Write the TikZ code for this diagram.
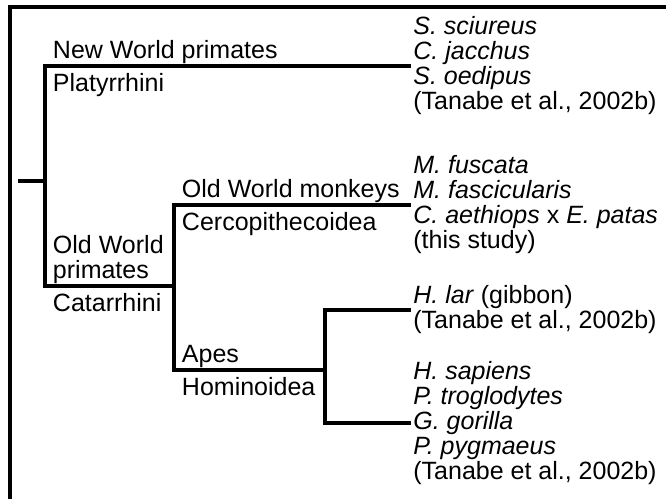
\documentclass[tikz,border=0pt]{standalone}
\usepackage{fontspec}
\setmainfont{Liberation Sans}
\usetikzlibrary{positioning, calc}

\begin{document}
\begin{tikzpicture}[
    x=0.5pt, y=-0.5pt,
    every node/.style={font=\fontsize{12.5pt}{12.5pt}\selectfont},
    taxa/.style={anchor=west, align=left, inner sep=1pt},
    above lab/.style={anchor=south west, align=left, inner sep=0pt, xshift=3.8pt, yshift=1pt},
    below lab/.style={anchor=north west, align=left, inner sep=0pt, xshift=3.8pt, yshift=-3.5pt},
    branch/.style={line width=2pt, line join=miter},
    frame/.style={line width=2pt}
]
\useasboundingbox (0,0) rectangle (666,499);

% --- Frame ---
\draw[frame] (10,499) |- (666,7);

% --- Internal nodes ---
\coordinate (root) at (18,181);
\coordinate (n0) at (45,181);
\coordinate (n1) at (174,286);
\coordinate (n2) at (325,370);

% --- Taxa ---
\node[taxa] (nw) at (411,66) {\textit{S. sciureus}\\\textit{C. jacchus}\\\textit{S. oedipus}\\(Tanabe et al., 2002b)};
\node[taxa] (owm) at (411,205) {\textit{M. fuscata}\\\textit{M. fascicularis}\\\textit{C. aethiops} x \textit{E. patas}\\(this study)};
\node[taxa] (gib) at (411,310) {\textit{H. lar} (gibbon)\\(Tanabe et al., 2002b)};
\node[taxa] (gre) at (411,423) {\textit{H. sapiens}\\\textit{P. troglodytes}\\\textit{G. gorilla}\\\textit{P. pygmaeus}\\(Tanabe et al., 2002b)};

% --- Branches ---
\draw[branch] (root) -- (n0);
\draw[branch] (nw.west) -| (n0) |- (n1);
\draw[branch] (owm.west) -| (n1) |- (n2);
\draw[branch] (gib.west) -| (n2) |- (gre.west);

% --- Clade labels ---
\node[above lab] at (n0 |- nw.west) {New World primates};
\node[below lab] at (n0 |- nw.west) {Platyrrhini};
\node[above lab] at (n0 |- n1) {Old World\\primates};
\node[below lab] at (n0 |- n1) {Catarrhini};
\node[above lab] at (n1 |- owm.west) {Old World monkeys};
\node[below lab] at (n1 |- owm.west) {Cercopithecoidea};
\node[above lab] at (n1 |- n2) {Apes};
\node[below lab] at (n1 |- n2) {Hominoidea};

\end{tikzpicture}
\end{document}
